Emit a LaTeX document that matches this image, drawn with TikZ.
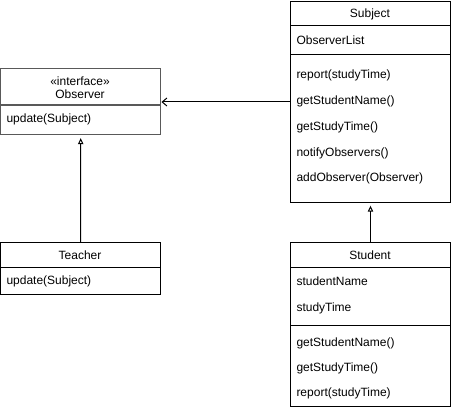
\documentclass[tikz,border=0pt]{standalone}
\usepackage{fontspec}
\setmainfont{Liberation Sans}
\usetikzlibrary{arrows.meta}
\begin{document}
\begin{tikzpicture}[x=0.75pt, y=-0.75pt, line width=0.75pt,
    every node/.style={inner sep=0pt, font=\fontsize{9}{11}\selectfont},
    cls/.style={draw, anchor=north west, minimum width=120pt},
    mem/.style={anchor=base west},
    title/.style={anchor=base},
    impl/.style={-{Triangle[open, length=4.5pt, width=4pt]}, shorten >=2pt},
    assoc/.style={-{Straight Barb[length=3.5pt, width=6pt]}}]
    \useasboundingbox (0,0) rectangle (451,410);

    \node[cls, minimum height=150.75pt] (subj) at (290,1) {};
    \node[cls, minimum height=49.5pt, draw=black!65, line width=1.1pt] (obs) at (0,68) {};
    \node[cls, minimum height=39pt] (teach) at (0,242) {};
    \node[cls, minimum height=123pt] (stud) at (290,242) {};

    \draw (subj.west |- 0,26) -- (subj.east |- 0,26);
    \draw (subj.west |- 0,55) -- (subj.east |- 0,55);
    \draw[draw=black!65, line width=1.1pt] (obs.west |- 0,105) -- (obs.east |- 0,105);
    \draw (teach.west |- 0,268) -- (teach.east |- 0,268);
    \draw (stud.west |- 0,268) -- (stud.east |- 0,268);
    \draw (stud.west |- 0,326) -- (stud.east |- 0,326);

    \node[title] (s0) at (370,18) {Subject};
    \node[mem] (s1) at (296,45) {ObserverList};
    \node[mem] (s2) at (296,79) {report(studyTime)};
    \node[mem] (s3) at (296,105) {getStudentName()};
    \node[mem] (s4) at (296,131) {getStudyTime()};
    \node[mem] (s5) at (296,157) {notifyObservers()};
    \node[mem] (s6) at (296,182) {addObserver(Observer)};

    \node[title] (o0) at (80,86) {«interface»};
    \node[title] (o1) at (80,99) {Observer};
    \node[mem] (o2) at (6,123) {update(Subject)};

    \node[title] (t0) at (80,260) {Teacher};
    \node[mem] (t1) at (6,285) {update(Subject)};

    \node[title] (st0) at (370,260) {Student};
    \node[mem] (st1) at (296,286) {studentName};
    \node[mem] (st2) at (296,312) {studyTime};
    \node[mem] (st3) at (296,347) {getStudentName()};
    \node[mem] (st4) at (296,372) {getStudyTime()};
    \node[mem] (st5) at (296,397) {report(studyTime)};

    \draw[assoc] (subj.west) -- (subj.west -| obs.east);
    \draw[impl] (teach.north) -- (obs.south);
    \draw[impl] (stud.north) -- (subj.south);
\end{tikzpicture}
\end{document}
